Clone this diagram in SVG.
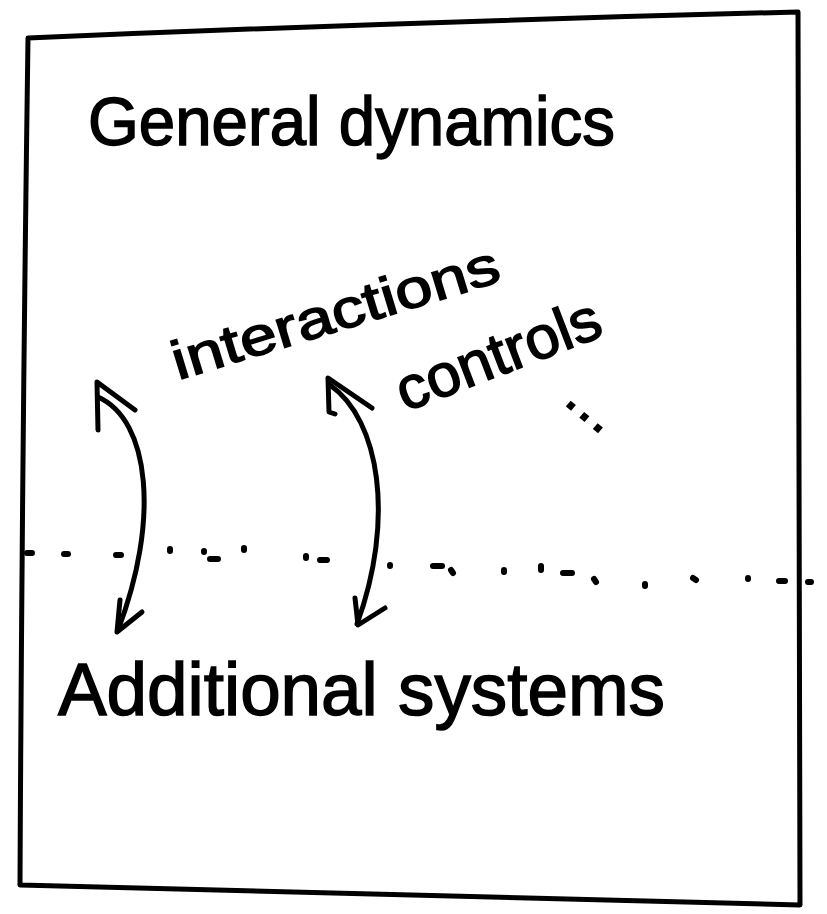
<svg xmlns="http://www.w3.org/2000/svg" width="827" height="914" viewBox="0 0 827 914">
<style>
.ln{fill:none;stroke:#000;stroke-width:5;stroke-linecap:round;stroke-linejoin:round}
.dt{fill:none;stroke:#000;stroke-width:6;stroke-linecap:round}
.tx{font-family:"Liberation Sans","DejaVu Sans",sans-serif;fill:#000;stroke:#000;stroke-width:1.5}
</style>
<rect width="827" height="914" fill="#fff"/>
<g id="frame">
<path class="ln" d="M28,38 Q400,22 798,12 Q800,460 800,905 Q410,895 20,885 Q22,460 28,38"/>
</g>
<g id="general-dynamics">
<text class="tx" x="88" y="145" font-size="68" textLength="527" lengthAdjust="spacingAndGlyphs">General dynamics</text>
</g>
<g id="interactions">
<text class="tx" font-size="54" transform="translate(178,380) rotate(-17)" textLength="340" lengthAdjust="spacingAndGlyphs">interactions</text>
<text class="tx" font-size="60" transform="translate(405,412) rotate(-21)" textLength="215" lengthAdjust="spacingAndGlyphs">controls</text>
<text class="tx" font-size="56" letter-spacing="2" transform="translate(563,403) rotate(40)">...</text>
</g>
<g id="divider">
<path class="dt" d="M27,553h5 M64,554h4 M116,555h5 M170,549v2 M204,551v1 M210,559h8 M244,548v2 M306,556v2 M320,560h7 M390,565v1 M433,566h9 M451,570l2,3 M504,570v2 M541,566v4 M563,573h9 M594,579l2,3 M645,584v2 M693,578l3,2 M748,578v1 M779,581h6 M808,582h3"/>
</g>
<g id="additional-systems">
<text class="tx" x="58" y="715" font-size="74" textLength="607" lengthAdjust="spacingAndGlyphs">Additional systems</text>
</g>
<g id="connectors">
<path class="ln" d="M98,397 C150,420 160,520 118,630"/>
<path class="ln" d="M98,430 L97,382 L135,410"/>
<path class="ln" d="M120,600 L117,632 L142,612"/>
<path class="ln" d="M330,385 C380,420 395,520 357,624"/>
<path class="ln" d="M335,414 L329,412 L328,378 L372,408"/>
<path class="ln" d="M355,598 L358,625 L385,608"/>
</g>
</svg>
